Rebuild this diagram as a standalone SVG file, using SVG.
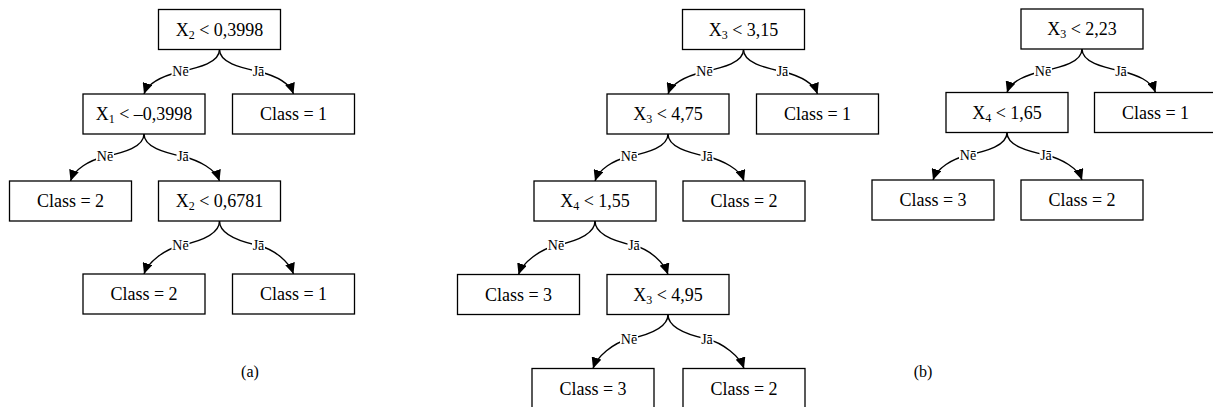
<svg xmlns="http://www.w3.org/2000/svg" width="1213" height="407" viewBox="0 0 1213 407">
<style>
.box{fill:#fff;stroke:#000;stroke-width:1.3}
.t{font-family:'Liberation Serif','Times New Roman','DejaVu Serif',serif;font-size:18px;text-anchor:middle;fill:#000}
.sub{font-size:12px}
.e{fill:none;stroke:#000;stroke-width:1.4;marker-end:url(#arr)}
.lb{fill:#fff}
.l{font-family:'Liberation Serif','Times New Roman','DejaVu Serif',serif;font-size:14px;text-anchor:middle;fill:#000}
.cap{font-family:'Liberation Serif','Times New Roman','DejaVu Serif',serif;font-size:16px;text-anchor:middle;fill:#000}
</style>
<defs>
<marker id="arr" markerWidth="11" markerHeight="10" refX="11" refY="5" orient="auto" markerUnits="userSpaceOnUse"><path d="M0,0 L11,5 L0,10 z" fill="#000"/></marker>
</defs>
<rect width="1213" height="407" fill="#fff"/>
<g id="connectors">
<path class="e" d="M219.5,49.5 C219.5,62.5 199.5,67.5 180.5,71.5 C164.5,75.5 148,82 144,94"/>
<path class="e" d="M219.5,49.5 C219.5,62.5 239.5,67.5 258.5,71.5 C274.5,75.5 289.5,82 293.5,94"/>
<path class="e" d="M144,134 C144,147 124,152.5 105,156.5 C89,160.5 74.5,169 70.5,181"/>
<path class="e" d="M144,134 C144,147 164,152.5 183,156.5 C199,160.5 215.5,169 219.5,181"/>
<path class="e" d="M219.5,221 C219.5,234 199.5,241.5 180.5,245.5 C164.5,249.5 148,262 144,274"/>
<path class="e" d="M219.5,221 C219.5,234 239.5,241.5 258.5,245.5 C274.5,249.5 289.5,262 293.5,274"/>
<path class="e" d="M743.5,49.5 C743.5,62.5 723.5,67.5 704.5,71.5 C688.5,75.5 672,82 668,94"/>
<path class="e" d="M743.5,49.5 C743.5,62.5 763.5,67.5 782.5,71.5 C798.5,75.5 813.5,82 817.5,94"/>
<path class="e" d="M668,134 C668,147 648,152.5 629,156.5 C613,160.5 599,169 595,181"/>
<path class="e" d="M668,134 C668,147 688,152.5 707,156.5 C723,160.5 740,169 744,181"/>
<path class="e" d="M595,221 C595,234 575,241.5 556,245.5 C540,249.5 522.5,262.5 518.5,274.5"/>
<path class="e" d="M595,221 C595,234 615,241.5 634,245.5 C650,249.5 664,262.5 668,274.5"/>
<path class="e" d="M668,314.5 C668,327.5 648,335 629,339 C613,343 597,356.5 593,368.5"/>
<path class="e" d="M668,314.5 C668,327.5 688,335 707,339 C723,343 740,356.5 744,368.5"/>
<path class="e" d="M1082,49 C1082,62 1062,67 1043,71 C1027,75 1011,80.5 1007,92.5"/>
<path class="e" d="M1082,49 C1082,62 1102,67 1121,71 C1137,75 1151.5,80.5 1155.5,92.5"/>
<path class="e" d="M1007,132.5 C1007,145.5 987,151 968,155 C952,159 937,168 933,180"/>
<path class="e" d="M1007,132.5 C1007,145.5 1027,151 1046,155 C1062,159 1078,168 1082,180"/>
<g id="edge-labels">
<rect class="lb" x="171.5" y="65" width="18" height="13"/><text class="l" x="180.5" y="76">Nē</text>
<rect class="lb" x="252" y="65" width="13" height="13"/><text class="l" x="258.5" y="76">Jā</text>
<rect class="lb" x="96" y="150" width="18" height="13"/><text class="l" x="105" y="161">Nē</text>
<rect class="lb" x="176.5" y="150" width="13" height="13"/><text class="l" x="183" y="161">Jā</text>
<rect class="lb" x="171.5" y="239" width="18" height="13"/><text class="l" x="180.5" y="250">Nē</text>
<rect class="lb" x="252" y="239" width="13" height="13"/><text class="l" x="258.5" y="250">Jā</text>
<rect class="lb" x="695.5" y="65" width="18" height="13"/><text class="l" x="704.5" y="76">Nē</text>
<rect class="lb" x="776" y="65" width="13" height="13"/><text class="l" x="782.5" y="76">Jā</text>
<rect class="lb" x="620" y="150" width="18" height="13"/><text class="l" x="629" y="161">Nē</text>
<rect class="lb" x="700.5" y="150" width="13" height="13"/><text class="l" x="707" y="161">Jā</text>
<rect class="lb" x="547" y="239" width="18" height="13"/><text class="l" x="556" y="250">Nē</text>
<rect class="lb" x="627.5" y="239" width="13" height="13"/><text class="l" x="634" y="250">Jā</text>
<rect class="lb" x="620" y="332.5" width="18" height="13"/><text class="l" x="629" y="343.5">Nē</text>
<rect class="lb" x="700.5" y="332.5" width="13" height="13"/><text class="l" x="707" y="343.5">Jā</text>
<rect class="lb" x="1034" y="64.5" width="18" height="13"/><text class="l" x="1043" y="75.5">Nē</text>
<rect class="lb" x="1114.5" y="64.5" width="13" height="13"/><text class="l" x="1121" y="75.5">Jā</text>
<rect class="lb" x="959" y="148.5" width="18" height="13"/><text class="l" x="968" y="159.5">Nē</text>
<rect class="lb" x="1039.5" y="148.5" width="13" height="13"/><text class="l" x="1046" y="159.5">Jā</text>
</g>
</g>
<g id="A0"><rect class="box" x="158.5" y="9.5" width="122" height="40"/><text class="t" x="219.5" y="35.5">X<tspan class="sub" dy="3">2</tspan><tspan dy="-3"> &lt; 0,3998</tspan></text></g>
<g id="A1"><rect class="box" x="83" y="94" width="122" height="40"/><text class="t" x="144" y="120">X<tspan class="sub" dy="3">1</tspan><tspan dy="-3"> &lt; –0,3998</tspan></text></g>
<g id="A2"><rect class="box" x="232.5" y="94" width="122" height="40"/><text class="t" x="293.5" y="120">Class = 1</text></g>
<g id="A3"><rect class="box" x="9.5" y="181" width="122" height="40"/><text class="t" x="70.5" y="207">Class = 2</text></g>
<g id="A4"><rect class="box" x="158.5" y="181" width="122" height="40"/><text class="t" x="219.5" y="207">X<tspan class="sub" dy="3">2</tspan><tspan dy="-3"> &lt; 0,6781</tspan></text></g>
<g id="A5"><rect class="box" x="83" y="274" width="122" height="40"/><text class="t" x="144" y="300">Class = 2</text></g>
<g id="A6"><rect class="box" x="232.5" y="274" width="122" height="40"/><text class="t" x="293.5" y="300">Class = 1</text></g>
<g id="B0"><rect class="box" x="682.5" y="9.5" width="122" height="40"/><text class="t" x="743.5" y="35.5">X<tspan class="sub" dy="3">3</tspan><tspan dy="-3"> &lt; 3,15</tspan></text></g>
<g id="B1"><rect class="box" x="607" y="94" width="122" height="40"/><text class="t" x="668" y="120">X<tspan class="sub" dy="3">3</tspan><tspan dy="-3"> &lt; 4,75</tspan></text></g>
<g id="B2"><rect class="box" x="756.5" y="94" width="122" height="40"/><text class="t" x="817.5" y="120">Class = 1</text></g>
<g id="B3"><rect class="box" x="534" y="181" width="122" height="40"/><text class="t" x="595" y="207">X<tspan class="sub" dy="3">4</tspan><tspan dy="-3"> &lt; 1,55</tspan></text></g>
<g id="B4"><rect class="box" x="683" y="181" width="122" height="40"/><text class="t" x="744" y="207">Class = 2</text></g>
<g id="B5"><rect class="box" x="457.5" y="274.5" width="122" height="40"/><text class="t" x="518.5" y="300.5">Class = 3</text></g>
<g id="B6"><rect class="box" x="607" y="274.5" width="122" height="40"/><text class="t" x="668" y="300.5">X<tspan class="sub" dy="3">3</tspan><tspan dy="-3"> &lt; 4,95</tspan></text></g>
<g id="B7"><rect class="box" x="532" y="368.5" width="122" height="40"/><text class="t" x="593" y="394.5">Class = 3</text></g>
<g id="B8"><rect class="box" x="683" y="368.5" width="122" height="40"/><text class="t" x="744" y="394.5">Class = 2</text></g>
<g id="C0"><rect class="box" x="1021" y="9" width="122" height="40"/><text class="t" x="1082" y="35">X<tspan class="sub" dy="3">3</tspan><tspan dy="-3"> &lt; 2,23</tspan></text></g>
<g id="C1"><rect class="box" x="946" y="92.5" width="122" height="40"/><text class="t" x="1007" y="118.5">X<tspan class="sub" dy="3">4</tspan><tspan dy="-3"> &lt; 1,65</tspan></text></g>
<g id="C2"><rect class="box" x="1094.5" y="92.5" width="122" height="40"/><text class="t" x="1155.5" y="118.5">Class = 1</text></g>
<g id="C3"><rect class="box" x="872" y="180" width="122" height="40"/><text class="t" x="933" y="206">Class = 3</text></g>
<g id="C4"><rect class="box" x="1021" y="180" width="122" height="40"/><text class="t" x="1082" y="206">Class = 2</text></g>
<g id="captions">
<text class="cap" x="250" y="377">(a)</text>
<text class="cap" x="923" y="377">(b)</text>
</g>
</svg>
